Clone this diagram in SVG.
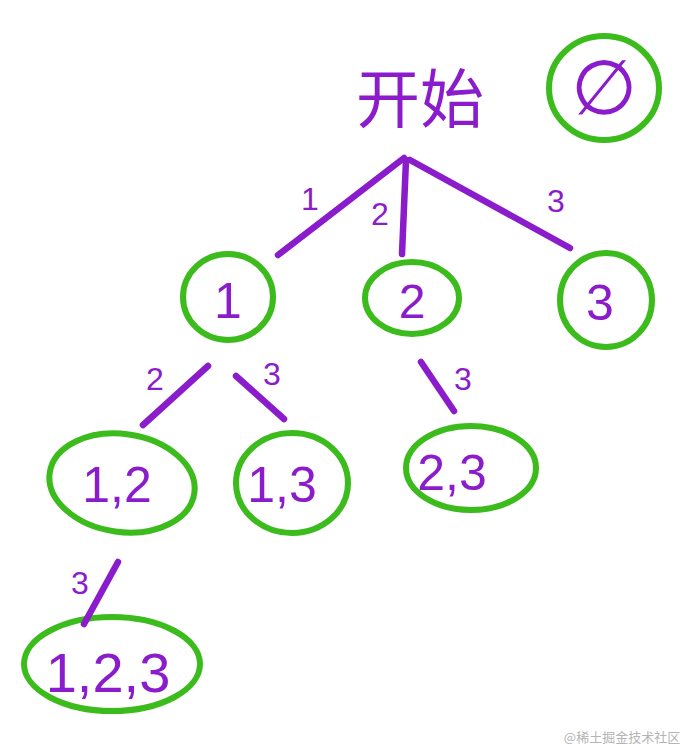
<svg xmlns="http://www.w3.org/2000/svg" width="686" height="751" viewBox="0 0 686 751">
<style>
.n{fill:none;stroke:#3cbb1c;stroke-width:6}
.e{stroke:#8a1ccb;stroke-width:6.5;stroke-linecap:round;fill:none}
.t{fill:#8a1ccb;font-family:"Liberation Sans","Noto Sans",sans-serif;text-anchor:middle}
.l{fill:#8a1ccb;font-family:"Liberation Sans","Noto Sans",sans-serif;font-size:32px;text-anchor:middle}
</style>
<rect width="686" height="751" fill="#fff"/>
<g id="root">
<text x="420" y="122" class="t" style="font-family:'Noto Sans CJK SC',sans-serif;font-size:64px">开始</text>
</g>
<g id="empty">
<ellipse cx="604" cy="88" rx="55" ry="52" class="n"/>
<text x="604" y="114" class="t" font-size="76">∅</text>
</g>
<g id="n1">
<ellipse cx="228" cy="297" rx="45" ry="43" class="n"/>
<text x="228" y="318" class="t" font-size="50">1</text>
</g>
<g id="n2">
<ellipse cx="412" cy="298" rx="47" ry="36" class="n"/>
<text x="412" y="318" class="t" font-size="48">2</text>
</g>
<g id="n3">
<ellipse cx="606" cy="300" rx="46" ry="47" class="n"/>
<text x="600" y="320" class="t" font-size="50">3</text>
</g>
<g id="n12">
<ellipse cx="122" cy="483" rx="73" ry="49" class="n" transform="rotate(8 122 483)"/>
<text x="117" y="502" class="t" font-size="50">1,2</text>
</g>
<g id="n13">
<ellipse cx="292" cy="483" rx="56" ry="50" class="n"/>
<text x="282" y="502" class="t" font-size="50">1,3</text>
</g>
<g id="n23">
<ellipse cx="471" cy="468" rx="65" ry="42" class="n"/>
<text x="452" y="490" class="t" font-size="50">2,3</text>
</g>
<g id="n123">
<ellipse cx="112" cy="664" rx="88" ry="47" class="n"/>
<text x="108" y="692" class="t" font-size="56">1,2,3</text>
</g>
<g id="connectors">
<line x1="404" y1="158" x2="278" y2="255" class="e"/>
<line x1="406" y1="160" x2="402" y2="254" class="e"/>
<line x1="410" y1="160" x2="570" y2="248" class="e"/>
<line x1="208" y1="366" x2="143" y2="425" class="e"/>
<line x1="236" y1="376" x2="284" y2="419" class="e"/>
<line x1="421" y1="362" x2="454" y2="411" class="e"/>
<line x1="118" y1="562" x2="84" y2="624" class="e"/>
<text x="310" y="210" class="l">1</text>
<text x="380" y="225" class="l">2</text>
<text x="556" y="212" class="l">3</text>
<text x="155" y="390" class="l">2</text>
<text x="272" y="385" class="l">3</text>
<text x="463" y="390" class="l">3</text>
<text x="80" y="594" class="l">3</text>
</g>
<text x="622" y="742" fill="#b4b4b4" font-size="13" text-anchor="middle" font-family="'Noto Sans CJK SC',sans-serif">@稀土掘金技术社区</text>
</svg>
